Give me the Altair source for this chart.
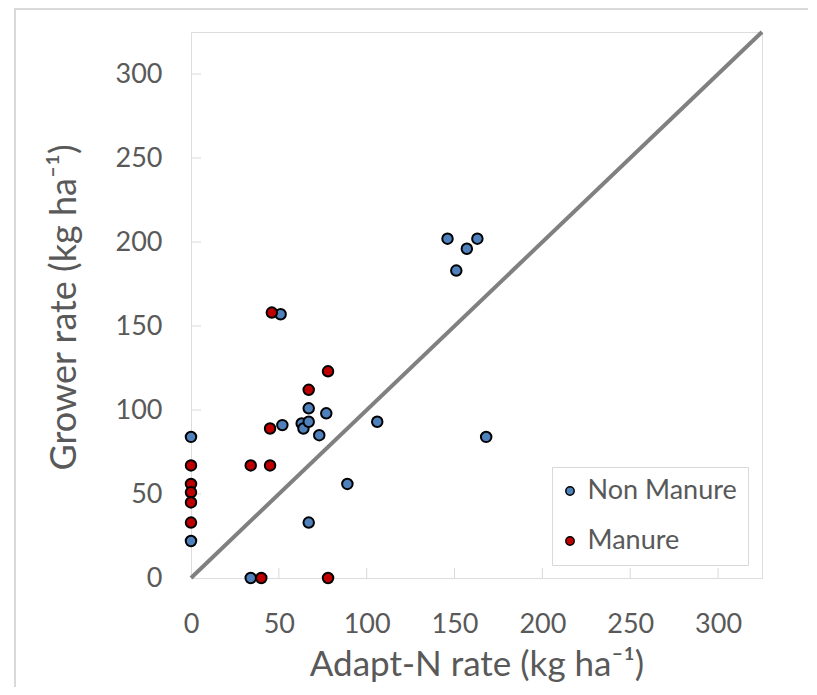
import altair as alt
import pandas as pd

# Data
nm_x = [0, 0, 34, 146, 151, 157, 163, 51, 52, 63, 64, 67, 67, 77, 73, 106, 89, 67, 168]
nm_y = [84, 22, 0, 202, 183, 196, 202, 157, 91, 92, 89, 93, 101, 98, 85, 93, 56, 33, 84]
m_x = [0, 0, 0, 0, 0, 34, 45, 45, 46, 67, 78, 40, 78]
m_y = [67, 56, 51, 45, 33, 67, 67, 89, 158, 112, 123, 0, 0]
groups = ["Non Manure", "Manure"]
colors = ["#4F81BD", "#C00000"]
tick_values = [0, 50, 100, 150, 200, 250, 300]
inner_ticks = [50, 100, 150, 200, 250, 300]
axis_max = 325
one_to_one = [0, 325]

W, H = 571, 546
FONT = "Lato"
TXT = "#595959"
GRID = "#D9D9D9"

pts = pd.DataFrame(
    {"x": nm_x + m_x, "y": nm_y + m_y,
     "group": [groups[0]] * len(nm_x) + [groups[1]] * len(m_x)}
)
line_df = pd.DataFrame({"x": one_to_one, "y": one_to_one})
ticks_df = pd.DataFrame({"v": inner_ticks})

xs = alt.Scale(domain=[0, axis_max], nice=False, zero=True)
ys = alt.Scale(domain=[0, axis_max], nice=False, zero=True)

one = alt.Data(values=[{"a": 1}])
frame_left = alt.Chart(one).mark_rule(color=GRID, strokeWidth=2).encode(
    x=alt.value(-176), y=alt.value(-23), y2=alt.value(H + 200)
)
frame_top = alt.Chart(one).mark_rule(color=GRID, strokeWidth=2).encode(
    x=alt.value(-177), x2=alt.value(W + 100), y=alt.value(-23)
)

diag = alt.Chart(line_df).mark_line(color="#808080", strokeWidth=4).encode(
    x=alt.X("x:Q", scale=xs, title="Adapt-N rate (kg ha⁻¹)",
            axis=alt.Axis(values=tick_values, ticks=False, domain=False, grid=False,
                          labelFont=FONT, labelFontSize=27, labelColor=TXT,
                          labelPadding=33, labelBaseline="top", labelFlush=False,
                          titleFont=FONT, titleFontSize=35, titleColor=TXT,
                          titleFontWeight="normal", titleBaseline="alphabetic",
                          titleX=W / 2, titleY=97)),
    y=alt.Y("y:Q", scale=ys, title="Grower rate (kg ha⁻¹)",
            axis=alt.Axis(values=tick_values, ticks=False, domain=False, grid=False,
                          labelFont=FONT, labelFontSize=27, labelColor=TXT,
                          labelPadding=29, labelFlush=False,
                          titleFont=FONT, titleFontSize=36, titleColor=TXT,
                          titleFontWeight="normal", titleBaseline="alphabetic",
                          titleAngle=270, titleX=-116, titleY=H / 2 + 2)),
)

xt = alt.Chart(ticks_df).mark_rule(color=GRID, strokeWidth=1).encode(
    x=alt.X("v:Q", scale=xs), y=alt.value(H - 10), y2=alt.value(H)
)
yt = alt.Chart(ticks_df).mark_rule(color=GRID, strokeWidth=1).encode(
    y=alt.Y("v:Q", scale=ys), x=alt.value(0), x2=alt.value(10)
)

points = alt.Chart(pts).mark_point(
    filled=True, size=110, stroke="black", strokeWidth=2, opacity=1, shape="circle"
).encode(
    x=alt.X("x:Q", scale=xs),
    y=alt.Y("y:Q", scale=ys),
    color=alt.Color(
        "group:N",
        scale=alt.Scale(domain=groups, range=colors),
        sort=groups,
        legend=alt.Legend(
            title=None, orient="none", legendX=361, legendY=435,
            labelFont=FONT, labelFontSize=27, labelColor=TXT,
            symbolType="circle", symbolSize=70, symbolStrokeColor="black",
            symbolStrokeWidth=1.5, symbolOpacity=1, symbolOffset=-6,
            labelOffset=4, rowPadding=22, padding=10.5,
            strokeColor=GRID, fillColor="white", cornerRadius=0,
        ),
    ),
)

chart = alt.layer(frame_left, frame_top, xt, yt, diag, points).properties(
    width=W, height=H,
    autosize=alt.AutoSizeParams(type="none"),
    padding={"left": 183, "top": 24, "right": 46, "bottom": 109},
).configure_view(stroke=GRID, strokeWidth=1).configure(background="white")

chart.save("out.html", embed_options={"renderer": "svg", "actions": False})
